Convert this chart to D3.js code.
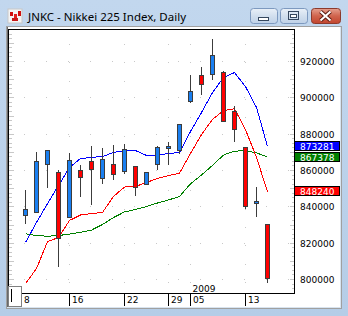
<!DOCTYPE html>
<html lang="en">
<head>
	<meta charset="utf-8">
	<title>JNKC - Nikkei 225 Index, Daily</title>
	<script src="https://d3js.org/d3.v7.min.js"></script>
	<style type="text/css">
		body {
			margin: 0;
			background: #b9d1ea;
		}

		svg {
			display: block;
		}

		.scale text {
			font-family: "DejaVu Sans", sans-serif;
			font-size: 9px;
			fill: #000;
		}

		.grid line {
			stroke: #c8c8c8;
			stroke-width: 1;
			shape-rendering: crispEdges;
		}

		.ma {
			fill: none;
			stroke-width: 1;
			shape-rendering: crispEdges;
		}
	</style>
</head>
<body>

	<div id="vis"></div>

	<script type="text/javascript">

		/* Data */
		/* ==== */

		// One entry per daily bar (Dec 2008 - Jan 2009)
		var bars = d3.range(23);

		var open  = [835200, 836700, 863100, 858700, 834000, 859800, 865000, 855400, 863100, 859500, 862000, 852300, 863100, 871900, 871000, 898200, 912300, 912700, 913800, 892500, 872500, 841700, 830300];
		var high  = [849000, 869900, 871000, 860000, 869200, 862800, 873200, 872100, 873800, 874300, 862000, 858700, 873200, 875300, 885200, 912300, 916700, 932100, 914300, 895200, 872500, 850600, 830300];
		var low   = [830800, 836700, 850800, 807300, 834000, 845900, 841400, 852700, 855000, 858200, 846400, 852300, 860400, 863100, 869200, 897400, 902000, 909900, 886800, 876100, 839100, 834800, 798300];
		var close = [838500, 864800, 870800, 822400, 865300, 856000, 860400, 866000, 857600, 871400, 850800, 858700, 872800, 873400, 885200, 903500, 907200, 923300, 886800, 882700, 840300, 842900, 800500];

		// Moving averages
		var maBlue  = [820400, 831400, 841800, 851700, 861700, 866600, 867200, 867700, 869900, 871000, 871000, 868300, 868300, 869400, 869900, 881500, 891900, 902900, 911200, 913900, 906200, 894700, 873281];
		var maRed   = [797800, 806000, 820900, 823100, 832500, 835500, 836300, 836900, 845700, 850900, 851200, 853400, 855600, 857200, 858500, 869400, 879800, 888100, 893000, 894000, 882500, 867200, 848240];
		var maGreen = [825200, 824200, 823800, 824200, 825000, 826000, 827200, 830300, 834100, 837200, 838500, 840200, 842100, 843800, 845700, 852700, 857500, 862800, 868500, 870700, 870800, 869700, 867378];

		// Price scale and time scale labels
		var priceTicks = [920000, 900000, 880000, 860000, 840000, 820000, 800000];
		var timeTickBars = [-0.4, 4, 9, 13, 15, 20];
		var timeTickLabels = ['8', '16', '22', '29', '05', '13'];
		var yearLabel = '2009';

		var title = 'JNKC - Nikkei 225 Index, Daily';


		/* Set up */
		/* ====== */

		var W = 348, H = 316;
		var plot = { left: 8.5, top: 29.5, right: 294.5, bottom: 293.5 };

		var svg = d3.select('#vis')
			.append('svg')
			.attr('width', W)
			.attr('height', H);

		var defs = svg.append('defs');

		var gTitle = defs.append('linearGradient').attr('id', 'frame').attr('x1', 0).attr('y1', 0).attr('x2', 0).attr('y2', 1);
		gTitle.append('stop').attr('offset', 0).attr('stop-color', '#c2d7ee');
		gTitle.append('stop').attr('offset', 1).attr('stop-color', '#b5cde7');

		var gBtn = defs.append('linearGradient').attr('id', 'btn').attr('x1', 0).attr('y1', 0).attr('x2', 0).attr('y2', 1);
		gBtn.append('stop').attr('offset', 0).attr('stop-color', '#e9f0f8');
		gBtn.append('stop').attr('offset', 0.5).attr('stop-color', '#d2dfee');
		gBtn.append('stop').attr('offset', 1).attr('stop-color', '#bfd1e7');

		var gClose = defs.append('linearGradient').attr('id', 'close').attr('x1', 0).attr('y1', 0).attr('x2', 0).attr('y2', 1);
		gClose.append('stop').attr('offset', 0).attr('stop-color', '#e5a08f');
		gClose.append('stop').attr('offset', 0.5).attr('stop-color', '#d0644d');
		gClose.append('stop').attr('offset', 1).attr('stop-color', '#c2452e');

		defs.append('clipPath').attr('id', 'plotclip')
			.append('rect')
			.attr('x', plot.left + 0.5).attr('y', plot.top + 0.5)
			.attr('width', plot.right - plot.left - 1).attr('height', plot.bottom - plot.top - 1);


		/* Window frame */
		/* ------------ */

		svg.append('rect').attr('width', W).attr('height', H).attr('fill', 'url(#frame)');

		// title icon
		var icon = svg.append('g').attr('transform', 'translate(8,9)');
		icon.append('rect').attr('width', 14).attr('height', 14).attr('fill', '#f4f4f4').attr('stroke', '#c8c8c8');
		icon.append('rect').attr('x', 2).attr('y', 3).attr('width', 3).attr('height', 4).attr('fill', '#d01010');
		icon.append('rect').attr('x', 6).attr('y', 5).attr('width', 3).attr('height', 4).attr('fill', '#e02020');
		icon.append('rect').attr('x', 10).attr('y', 2).attr('width', 3).attr('height', 5).attr('fill', '#d01010');
		icon.append('rect').attr('x', 4).attr('y', 9).attr('width', 6).attr('height', 3).attr('fill', '#c81818');

		svg.append('text')
			.attr('x', 28).attr('y', 20.5)
			.style('font-family', '"Noto Sans", sans-serif')
			.style('font-size', '11.5px')
			.attr('fill', '#000')
			.text(title);

		// caption buttons
		function button(x, w, fill, stroke) {
			return svg.append('rect')
				.attr('x', x + 0.5).attr('y', 8.5)
				.attr('width', w).attr('height', 15)
				.attr('rx', 3)
				.attr('fill', fill).attr('stroke', stroke);
		}
		button(250, 27, 'url(#btn)', '#7d99bf');
		button(280, 27, 'url(#btn)', '#7d99bf');
		button(311, 29, 'url(#close)', '#8c3a2c');

		svg.append('rect').attr('x', 258.5).attr('y', 17.5).attr('width', 10).attr('height', 3)
			.attr('fill', '#fff').attr('stroke', '#35475e');
		svg.append('rect').attr('x', 288.5).attr('y', 11.5).attr('width', 10).attr('height', 8)
			.attr('fill', 'none').attr('stroke', '#35475e').attr('stroke-width', 1);
		svg.append('rect').attr('x', 290.5).attr('y', 14.5).attr('width', 6).attr('height', 3)
			.attr('fill', '#fff').attr('stroke', '#35475e');
		var cross = 'M320.5,11.5 L330.5,20.5 M330.5,11.5 L320.5,20.5';
		svg.append('path').attr('d', cross).attr('stroke', '#5a1e14').attr('stroke-width', 4);
		svg.append('path').attr('d', cross).attr('stroke', '#fff').attr('stroke-width', 2);

		// MDI child client area
		svg.append('rect').attr('x', 6).attr('y', 26).attr('width', 336).attr('height', 283).attr('fill', '#a0a0a0');
		svg.append('rect').attr('x', 7).attr('y', 27).attr('width', 334).attr('height', 281).attr('fill', '#d8e4f0');
		svg.append('rect').attr('x', 7).attr('y', 27).attr('width', 333).attr('height', 280).attr('fill', '#fff');
		svg.append('rect').attr('x', 7).attr('y', 27).attr('width', 1).attr('height', 280).attr('fill', '#696969');


		/* Scales */
		/* ====== */

		var xScale = d3.scaleLinear()
			.domain([0, bars.length - 1])
			.range([25, 267]);

		var yScale = d3.scaleLinear()
			.domain([800000, 920000])
			.range([279, 61]);

		// pixel column of a bar centre
		function cx(i) { return Math.round(xScale(i)) + 0.5; }
		function py(v) { return Math.round(yScale(v)); }


		/* Grid */
		/* ---- */

		var grid = svg.append('g').attr('class', 'grid').attr('clip-path', 'url(#plotclip)');

		grid.selectAll('.hgrid')
			.data(priceTicks).enter()
			.append('line')
			.attr('x1', plot.left).attr('x2', plot.right)
			.attr('y1', function (d) { return py(d) + 0.5; })
			.attr('y2', function (d) { return py(d) + 0.5; })
			.attr('stroke-dasharray', '1 21')
			.attr('stroke-dashoffset', 6.5);

		grid.selectAll('.vgrid')
			.data(timeTickBars.slice(1)).enter()
			.append('line')
			.attr('x1', function (d) { return cx(d); })
			.attr('x2', function (d) { return cx(d); })
			.attr('y1', plot.top).attr('y2', plot.bottom)
			.attr('stroke-dasharray', '1 17.3')
			.attr('stroke-dashoffset', 3.8);

		// small scale ticks along both edges
		var minor = d3.range(795000, 935001, 2500);
		var edgeTicks = svg.append('g').attr('class', 'grid').attr('clip-path', 'url(#plotclip)');
		edgeTicks.selectAll('.lt')
			.data(minor).enter()
			.append('line')
			.attr('x1', plot.left)
			.attr('x2', function (d) { return plot.left + (d % 10000 === 0 ? 5 : 3); })
			.attr('y1', function (d) { return py(d) + 0.5; })
			.attr('y2', function (d) { return py(d) + 0.5; });
		edgeTicks.selectAll('.rt')
			.data(minor).enter()
			.append('line')
			.attr('x1', plot.right)
			.attr('x2', function (d) { return plot.right - (d % 10000 === 0 ? 5 : 3); })
			.attr('y1', function (d) { return py(d) + 0.5; })
			.attr('y2', function (d) { return py(d) + 0.5; });


		/* Moving averages */
		/* --------------- */

		var line = d3.line()
			.x(function (d, i) { return cx(i); })
			.y(function (d) { return yScale(d) + 0.5; });

		var gLines = svg.append('g').attr('clip-path', 'url(#plotclip)');

		[[maGreen, '#008000'], [maRed, '#ff0000'], [maBlue, '#0000ff']].forEach(function (m) {
			gLines.append('path')
				.datum(m[0])
				.attr('class', 'ma')
				.attr('stroke', m[1])
				.attr('d', line);
		});


		/* Candles */
		/* ------- */

		var gCandles = svg.append('g').attr('clip-path', 'url(#plotclip)');

		var candles = gCandles.selectAll('.candle')
			.data(bars).enter()
			.append('g')
			.attr('class', 'candle');

		candles.append('line')
			.attr('x1', function (i) { return cx(i); })
			.attr('x2', function (i) { return cx(i); })
			.attr('y1', function (i) { return py(high[i]); })
			.attr('y2', function (i) { return py(low[i]) + 1; })
			.attr('stroke', '#3c3c3c')
			.attr('shape-rendering', 'crispEdges');

		candles.append('rect')
			.attr('x', function (i) { return cx(i) - 2; })
			.attr('y', function (i) { return Math.min(py(open[i]), py(close[i])) + 0.5; })
			.attr('width', 4)
			.attr('height', function (i) { return Math.max(1, Math.abs(py(open[i]) - py(close[i]))); })
			.attr('fill', function (i) { return close[i] >= open[i] ? '#1a7ff0' : '#ff0000'; })
			.attr('stroke', '#3c3c3c')
			.attr('shape-rendering', 'crispEdges');


		/* Frame and axes */
		/* -------------- */

		svg.append('path')
			.attr('d', 'M' + plot.left + ',' + plot.top + 'H' + plot.right + 'V' + plot.bottom + 'H' + plot.left + 'Z')
			.attr('fill', 'none')
			.attr('stroke', '#000')
			.attr('shape-rendering', 'crispEdges');

		var scale = svg.append('g').attr('class', 'scale');

		scale.selectAll('.price')
			.data(priceTicks).enter()
			.append('text')
			.attr('x', 300)
			.attr('y', function (d) { return py(d) + 0.5; })
			.attr('dy', '0.36em')
			.text(function (d) { return d; });

		// last value boxes
		[[maBlue, '#0000ff'], [maGreen, '#008000'], [maRed, '#ff0000']].forEach(function (m) {
			var v = m[0][m[0].length - 1];
			var yv = py(v);
			scale.append('rect')
				.attr('x', 294.5).attr('y', yv - 4.5)
				.attr('width', 45).attr('height', 9)
				.attr('fill', m[1]).attr('stroke', '#000');
			scale.append('text')
				.attr('x', 300).attr('y', yv + 0.5)
				.attr('dy', '0.36em')
				.style('fill', '#fff')
				.text(v);
		});

		// time scale
		scale.selectAll('.ttick')
			.data(timeTickBars).enter()
			.append('line')
			.attr('x1', function (d) { return cx(d); })
			.attr('x2', function (d) { return cx(d); })
			.attr('y1', plot.bottom).attr('y2', plot.bottom + 12)
			.attr('stroke', '#000')
			.attr('shape-rendering', 'crispEdges');

		scale.selectAll('.tlabel')
			.data(timeTickBars).enter()
			.append('text')
			.attr('x', function (d) { return cx(d) + 2.5; })
			.attr('y', 300)
			.attr('dy', '0.36em')
			.text(function (d, i) { return timeTickLabels[i]; });

		scale.append('text')
			.attr('x', cx(timeTickBars[4]) + 2)
			.attr('y', 288.5)
			.attr('dy', '0.36em')
			.text(yearLabel);

		// scroll marker box bottom-left
		svg.append('rect')
			.attr('x', 8.5).attr('y', 286.5).attr('width', 13).attr('height', 20)
			.attr('fill', '#fff').attr('stroke', '#808080');
		svg.append('line')
			.attr('x1', 11.5).attr('x2', 11.5).attr('y1', 289).attr('y2', 302)
			.attr('stroke', '#000');

	</script>

</body>
</html>
